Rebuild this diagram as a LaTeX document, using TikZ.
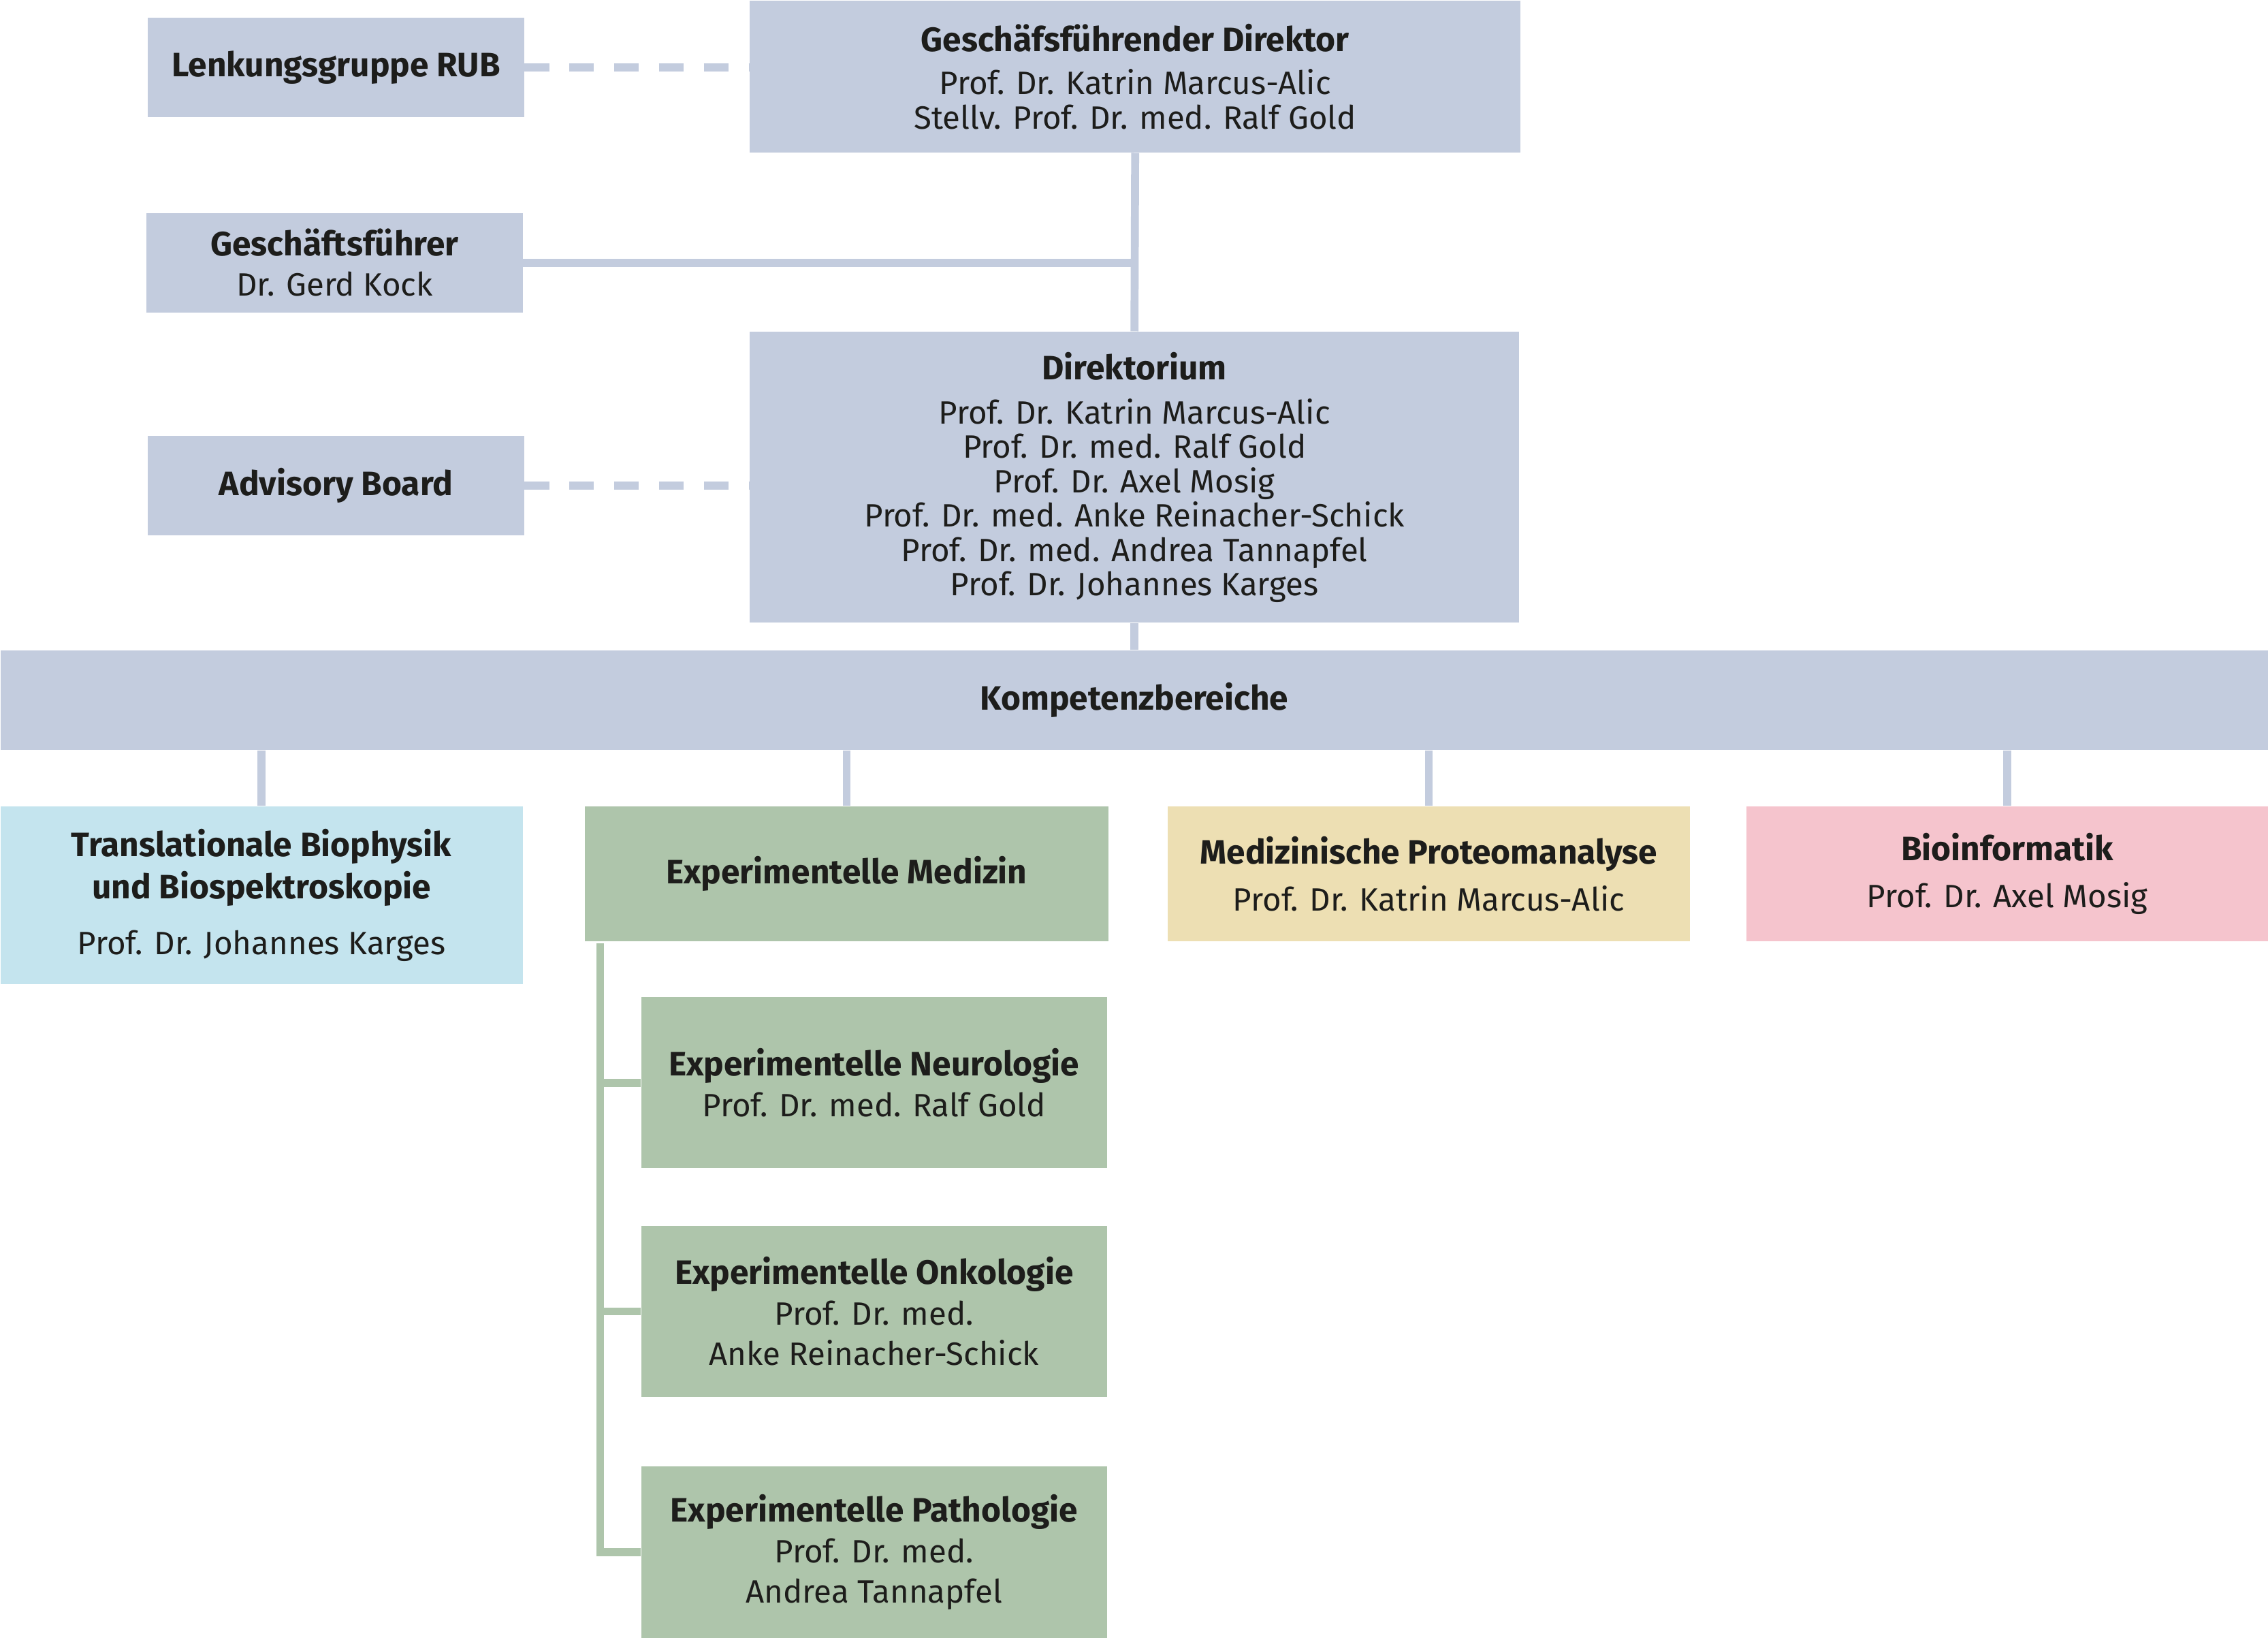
\documentclass[tikz,border=0pt]{standalone}
\usepackage{fontspec}
\setmainfont{Fira Sans}
\usetikzlibrary{positioning}

\definecolor{orgblue}{HTML}{C3CCDE}
\definecolor{tbblue}{HTML}{C4E4EE}
\definecolor{emgreen}{HTML}{AEC5AB}
\definecolor{mpyellow}{HTML}{EDDFB3}
\definecolor{bipink}{HTML}{F5C4CD}
\definecolor{textgray}{HTML}{1D1D1B}

% heading line inside a box
\newcommand{\hd}[1]{{\fontsize{13.3}{13.7}\selectfont\bfseries #1}}

\begin{document}
\begin{tikzpicture}[
    % one unit = one pixel of the layout grid
    x=0.02cm, y=-0.02cm,
    % general settings
    align=center,
    font=\fontsize{12.7}{13.5}\selectfont,
    text=textgray,
    % nodes
    base/.style={rectangle, inner sep=0pt, anchor=north west, fill=orgblue},
    small/.style={base, minimum width=5.2cm, minimum height=1.37cm},
    area/.style={base, minimum width=7.22cm, minimum height=1.86cm},
    sub/.style={base, fill=emgreen, minimum width=6.44cm, minimum height=2.36cm,
                font=\fontsize{12.7}{15.9}\selectfont},
    % lines
    conn/.style={orgblue, line width=0.11cm},
    dashconn/.style={orgblue, line width=0.11cm, dash pattern=on 0.34cm off 0.28cm},
    subconn/.style={emgreen, line width=0.11cm},
  ]

  \useasboundingbox (0,0) rectangle (1568,1132);

  % leadership
  \node (gfd)   [base, minimum width=10.66cm, minimum height=2.1cm] at (518,0)
                {\hd{Geschäfsführender Direktor}\\[3.5pt]
                 Prof. Dr. Katrin Marcus-Alic\\
                 Stellv. Prof. Dr. med. Ralf Gold};
  \node (lenk)  [small] at (102,12) {\hd{Lenkungsgruppe RUB}};
  \node (gf)    [small, font=\fontsize{12.7}{15.9}\selectfont] at (101,147)
                {\hd{Geschäftsführer}\\Dr. Gerd Kock};
  \node (dir)   [base, minimum width=10.64cm, minimum height=4.02cm] at (518,229)
                {\hd{Direktorium}\\[4pt]
                 Prof. Dr. Katrin Marcus-Alic\\
                 Prof. Dr. med. Ralf Gold\\
                 Prof. Dr. Axel Mosig\\
                 Prof. Dr. med. Anke Reinacher-Schick\\
                 Prof. Dr. med. Andrea Tannapfel\\
                 Prof. Dr. Johannes Karges};
  \node (adv)   [small] at (102,301) {\hd{Advisory Board}};

  % competence areas
  \node (komp)  [base, minimum width=31.36cm, minimum height=1.38cm] at (0,449)
                {\hd{Kompetenzbereiche}};
  \node (trans) [area, fill=tbblue, minimum height=2.46cm] at (0,557)
                {\hd{Translationale Biophysik}\\[1.8pt]
                 \hd{und Biospektroskopie}\\[8.5pt]
                 Prof. Dr. Johannes Karges};
  \node (med)   [area, fill=emgreen, minimum width=7.24cm] at (404,557)
                {\hd{Experimentelle Medizin}};
  \node (prot)  [area, fill=mpyellow] at (807,557)
                {\hd{Medizinische Proteomanalyse}\\[5pt]Prof. Dr. Katrin Marcus-Alic};
  \node (bio)   [area, fill=bipink] at (1207,557)
                {\hd{Bioinformatik}\\[5pt]Prof. Dr. Axel Mosig};

  % experimental medicine
  \node (neuro) [sub] at (443,689)
                {\hd{Experimentelle Neurologie}\\Prof. Dr. med. Ralf Gold};
  \node (onko)  [sub] at (443,847)
                {\hd{Experimentelle Onkologie}\\Prof. Dr. med.\\Anke Reinacher-Schick};
  \node (patho) [sub, minimum height=2.38cm] at (443,1013)
                {\hd{Experimentelle Pathologie}\\Prof. Dr. med.\\Andrea Tannapfel};

  % connectors
  \draw[dashconn] (lenk.east) -- (lenk.east -| gfd.west);
  \draw[dashconn] (adv.east)  -- (adv.east -| dir.west);
  \draw[conn]     (gfd.south) -- (dir.north);
  \draw[conn]     (gf.east)   -- (gf.east -| gfd.south);
  \draw[conn]     (dir.south) -- (komp.north -| dir.south);

  \foreach \area in {trans, med, prot, bio}
    \draw[conn] (komp.south -| \area.north) -- (\area.north);

  \coordinate (trunk) at ([xshift=0.22cm, yshift=-0.03cm]med.south west);
  \draw[subconn] (trunk) |- (patho.west);
  \draw[subconn] (trunk) |- (neuro.west);
  \draw[subconn] (trunk) |- (onko.west);

\end{tikzpicture}
\end{document}
